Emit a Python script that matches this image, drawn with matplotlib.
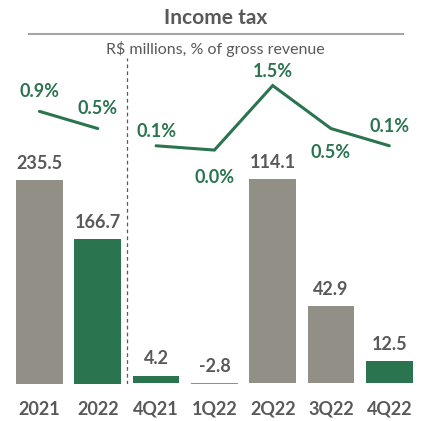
import matplotlib
matplotlib.use("Agg")
import matplotlib.pyplot as plt
from matplotlib.lines import Line2D

# -------------------------------
# Data
# -------------------------------

categories = ["2021", "2022", "4Q21", "1Q22", "2Q22", "3Q22", "4Q22"]

annual_values = [235.5, 166.7]
quarter_values = [4.2, -2.8, 114.1, 42.9, 12.5]

annual_pct = [0.9, 0.5]
quarter_pct = [0.1, 0.0, 1.5, 0.5, 0.1]

annual_colors = ["#918f86", "#2a7550"]
quarter_colors = ["#2a7550", "#918f86", "#918f86", "#918f86", "#2a7550"]

GREEN = "#2a7550"
DARK = "#595959"

plt.rcParams["font.family"] = ["Lato", "DejaVu Sans"]

# -------------------------------
# Figure and axes
# -------------------------------

fig = plt.figure(figsize=(4.23, 4.21), dpi=100)

ax = fig.add_axes([0.0244, 0.0879, 0.9649, 0.9121])
ax_q = ax.twinx()
ax_p = ax.twinx()

x_annual = [0, 1]
x_quarter = [2, 3, 4, 5, 6]

ax.bar(x_annual, annual_values, width=0.8, color=annual_colors)
ax_q.bar(x_quarter, quarter_values, width=0.8, color=quarter_colors)

ax.set_xlim(-0.5, 6.5)
ax.set_ylim(0, 443)
ax_q.set_ylim(-0.5, 214.5)
ax_p.set_ylim(-5.44, 3.49)

# value labels on the bars
for x, v in zip(x_annual, annual_values):
    ax.annotate(f"{v:.1f}", (x, v), xytext=(0, 12), textcoords="offset points",
                ha="center", va="center", fontsize=13, fontweight="bold", color=DARK)

for x, v in zip(x_quarter, quarter_values):
    ax_q.annotate(f"{v:.1f}", (x, max(v, 0)), xytext=(0, 12), textcoords="offset points",
                  ha="center", va="center", fontsize=13, fontweight="bold", color=DARK)

# percentage lines
ax_p.plot(x_annual, annual_pct, color=GREEN, lw=2.2, solid_capstyle="round")
ax_p.plot(x_quarter, quarter_pct, color=GREEN, lw=2.2, solid_capstyle="round",
          solid_joinstyle="miter")

pct_offsets = [14.5, 14.5, 10, -20, 10, -17, 14]
for x, p, off in zip(x_annual + x_quarter, annual_pct + quarter_pct, pct_offsets):
    ax_p.annotate(f"{p:.1f}%", (x, p), xytext=(0, off), textcoords="offset points",
                  ha="center", va="center", fontsize=13, fontweight="bold", color=GREEN)

# separator between years and quarters
ax.axvline(1.5, ymin=0, ymax=0.85, color=DARK, lw=0.9, ls=(0, (3, 2.5)))

# -------------------------------
# Ticks and spines
# -------------------------------

ax.set_xticks(range(len(categories)))
ax.set_xticklabels(categories, fontsize=13, fontweight="bold", color=DARK)
ax.tick_params(axis="x", length=0, pad=12)
ax.set_yticks([])
for a in (ax_q, ax_p):
    a.set_yticks([])
for a in (ax, ax_q, ax_p):
    for s in a.spines.values():
        s.set_visible(False)

# -------------------------------
# Title
# -------------------------------

fig.text(0.509, 0.957, "Income tax", ha="center", va="center",
         fontsize=15, fontweight="bold", color=DARK)
fig.add_artist(Line2D([0.069, 0.953], [0.919, 0.919], color="#a6a6a6", lw=1.5))
fig.text(0.509, 0.884, "R$ millions, % of gross revenue", ha="center", va="center",
         fontsize=11.5, color=DARK)

fig.savefig("out.png", dpi=100)
